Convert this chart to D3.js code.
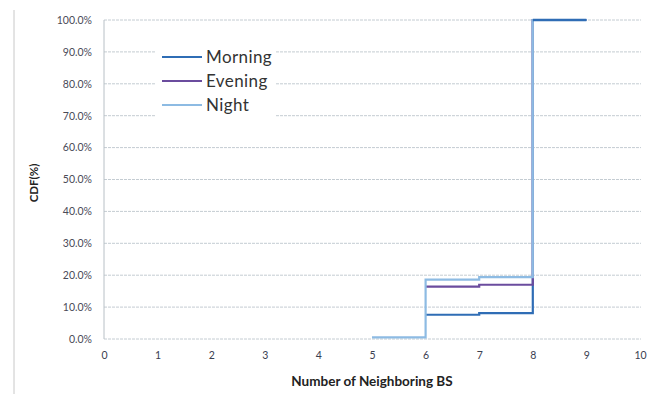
<!DOCTYPE html>
<html><head><meta charset="utf-8">
<script src="https://cdn.jsdelivr.net/npm/d3@7"></script>
<style>body{margin:0;background:#fff;}svg{display:block;font-family:Lato,"Open Sans",sans-serif;}</style>
</head><body>
<svg id="c" width="658" height="394"></svg>
<script>
const xValues = [5, 6, 7, 8, 9];
const morning = [null, 7.6, 8.1, 100, 100];
const evening = [null, 16.4, 17.0, 100, 100];
const night = [0.5, 18.6, 19.4, 100, 100];
const seriesNames = ["Morning", "Evening", "Night"];
const seriesColors = ["#2f6db5", "#6b4c9e", "#8dbbe3"];
const xTicks = [0,1,2,3,4,5,6,7,8,9,10];
const yTicks = [0,10,20,30,40,50,60,70,80,90,100];

const svg = d3.select("#c");
const x = d3.scaleLinear().domain([0,10]).range([104,640]);
const y = d3.scaleLinear().domain([0,100]).range([339,20]);

// outer left border
svg.append("line").attr("x1",14).attr("x2",14).attr("y1",10).attr("y2",394)
  .attr("stroke","#c8c8c8").attr("stroke-width",1);

// gridlines
svg.append("g").selectAll("line").data(yTicks).join("line")
  .attr("x1",x(0)).attr("x2",x(10)+1).attr("y1",d=>y(d)).attr("y2",d=>y(d))
  .attr("stroke","#c4ccd2").attr("stroke-width",1).attr("stroke-dasharray","3,1");
// left frame
svg.append("line").attr("x1",x(0)).attr("x2",x(0)).attr("y1",y(100)).attr("y2",y(0))
  .attr("stroke","#b8c0c6").attr("stroke-width",1);

// y axis labels
const yAxis = d3.axisLeft(y).tickValues(yTicks).tickSize(0).tickPadding(12)
  .tickFormat(d=>d3.format(".1f")(d)+"%");
const gy = svg.append("g").attr("transform",`translate(${x(0)},0)`).call(yAxis);
gy.select(".domain").remove();
gy.selectAll("text").attr("font-size",10.5).attr("fill","#4a4a58").attr("font-family","Lato,sans-serif");

// x axis labels
const xAxis = d3.axisBottom(x).tickValues(xTicks).tickSize(0).tickPadding(13);
const gx = svg.append("g").attr("transform",`translate(0,${y(0)})`).call(xAxis);
gx.select(".domain").remove();
gx.selectAll("text").attr("font-size",10.5).attr("fill","#3a4050").attr("font-family","Lato,sans-serif");

// axis titles
svg.append("text").attr("x",372).attr("y",386).attr("text-anchor","middle")
  .attr("font-size",13.5).attr("font-weight","bold").attr("fill","#222")
  .text("Number of Neighboring BS");
svg.append("text").attr("transform","translate(38,183) rotate(-90)").attr("text-anchor","middle")
  .attr("font-size",11.5).attr("font-weight","bold").attr("fill","#222").text("CDF(%)");

// legend background
svg.append("rect").attr("x",155).attr("y",40).attr("width",120).attr("height",80).attr("fill","#fff");

// series
const line = d3.line().defined(d=>d[1]!==null).x(d=>x(d[0])).y(d=>y(d[1])).curve(d3.curveStepAfter);
const data = [morning, evening, night];
data.forEach((vals,i)=>{
  svg.append("path").datum(xValues.map((xv,j)=>[xv,vals[j]]))
    .attr("d",line).attr("fill","none").attr("stroke",seriesColors[i])
    .attr("stroke-width",2.2);
});
// morning top segment appears on top
svg.append("path").datum(xValues.slice(3).map((xv,j)=>[xv,morning[j+3]])).attr("d",line).attr("fill","none")
  .attr("stroke",seriesColors[0]).attr("stroke-width",2.5);

// legend
const lg = svg.append("g");
seriesNames.forEach((n,i)=>{
  const ly = 57 + i*24;
  lg.append("line").attr("x1",162).attr("x2",202).attr("y1",ly).attr("y2",ly)
    .attr("stroke",seriesColors[i]).attr("stroke-width",2.2);
  lg.append("text").attr("x",206).attr("y",ly+6).attr("font-size",17)
    .attr("letter-spacing",0.4).attr("fill","#333").text(n);
});
</script>
</body></html>
